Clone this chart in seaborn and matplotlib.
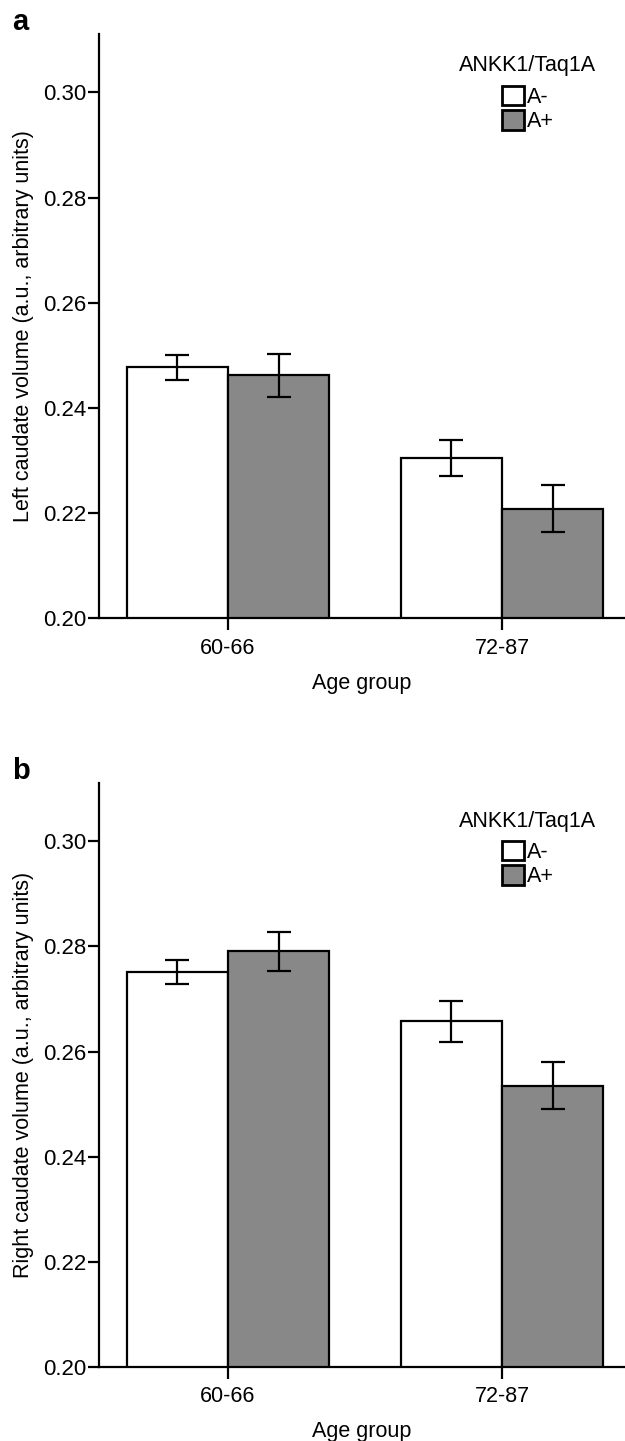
import numpy as np
import pandas as pd
import matplotlib
matplotlib.use('Agg')
import matplotlib.pyplot as plt
import seaborn as sns
from matplotlib.patches import Patch

# -------------------------------
# Data
# -------------------------------
age_groups = ["60-66", "72-87"]
genotypes = ["A-", "A+"]

left_mean = {"A-": [0.2477, 0.2305], "A+": [0.2462, 0.2209]}
left_sem = {"A-": [0.0024, 0.0035], "A+": [0.0041, 0.0044]}

right_mean = {"A-": [0.2752, 0.2658], "A+": [0.2791, 0.2535]}
right_sem = {"A-": [0.0023, 0.0039], "A+": [0.0037, 0.0045]}

y_ticks = [0.20, 0.22, 0.24, 0.26, 0.28, 0.30]
colors = {"A-": "white", "A+": "#888888"}

# -------------------------------
# Style
# -------------------------------
sns.set_style("ticks")
plt.rcParams['font.family'] = ['Liberation Sans', 'DejaVu Sans']
plt.rcParams['axes.linewidth'] = 1.6
for key in ['text.color', 'axes.labelcolor', 'xtick.color', 'ytick.color', 'axes.edgecolor']:
    plt.rcParams[key] = 'black'

fig = plt.figure(figsize=(6.25, 14.41), dpi=100)
ax_a = fig.add_axes([0.159, 0.5708, 0.841, 0.4053])
ax_b = fig.add_axes([0.159, 0.0514, 0.841, 0.4049])


def draw_panel(ax, means, sems, ylabel, title_y, legend_y):
    rows = []
    for g in genotypes:
        for i, a in enumerate(age_groups):
            rows.append({"age": a, "genotype": g, "value": means[g][i]})
    df = pd.DataFrame(rows)

    sns.barplot(data=df, x="age", y="value", hue="genotype",
                order=age_groups, hue_order=genotypes, palette=colors,
                edgecolor="black", linewidth=1.6, width=0.74,
                errorbar=None, legend=False, ax=ax)

    # error bars (mean +/- SE) at the bar centres
    for g, cont in zip(genotypes, ax.containers):
        xs = [p.get_x() + p.get_width() / 2 for p in cont.patches]
        ax.errorbar(xs, means[g], yerr=sems[g], fmt="none", ecolor="black",
                    elinewidth=1.6, capsize=8.9, capthick=1.6, zorder=5)

    ax.set_ylim(0.20, 0.311)
    ax.set_xlim(-0.469, 1.449)
    ax.set_yticks(y_ticks)
    ax.set_yticklabels([f"{t:.2f}" for t in y_ticks])
    ax.tick_params(axis="y", length=8, width=1.6, pad=1, labelsize=16)
    ax.tick_params(axis="x", length=8.5, width=1.6, pad=5.5, labelsize=15.5)
    ax.set_xlabel("Age group", fontsize=15.5, labelpad=10)
    ax.set_ylabel(ylabel, fontsize=15.5, labelpad=7)
    sns.despine(ax=ax)

    # legend: title drawn as its own text, entries below it
    ax.text(0.8154, title_y, "ANKK1/Taq1A", transform=ax.transAxes,
            ha="center", va="baseline", fontsize=15.5)
    handles = [Patch(facecolor=colors[g], edgecolor="black", linewidth=2, label=g)
               for g in genotypes]
    ax.legend(handles=handles, loc="upper center",
              bbox_to_anchor=(0.8154, legend_y), frameon=False, fontsize=15.5,
              handlelength=1.0, handleheight=1.0,
              handletextpad=0.15, labelspacing=0.12, borderpad=0,
              borderaxespad=0)


draw_panel(ax_a, left_mean, left_sem, "Left caudate volume (a.u., arbitrary units)",
           0.937, 0.912)
draw_panel(ax_b, right_mean, right_sem, "Right caudate volume (a.u., arbitrary units)",
           0.926, 0.902)

fig.text(12 / 625, 1 - 30 / 1441, "a", fontsize=21, fontweight="bold")
fig.text(12 / 625, 1 - 779 / 1441, "b", fontsize=21, fontweight="bold")

fig.savefig("out.png", dpi=100)
plt.close()
